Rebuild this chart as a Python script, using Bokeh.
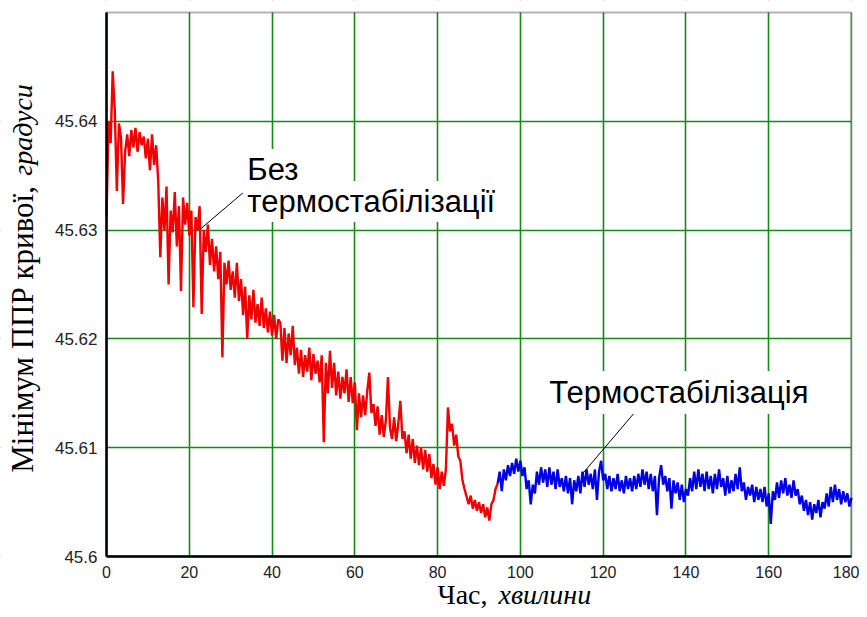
import numpy as np
from bokeh.plotting import figure
from bokeh.models import Range1d, FixedTicker, Label, PrintfTickFormatter, BoxAnnotation
from bokeh.embed import file_html
from bokeh.resources import INLINE

# ---------------- data ----------------
SAMPLE_STEP_MIN = 0.5          # sampling interval of the listed values, minutes
red_start_min = 0.0            # "Без термостабілізації" segment starts here
blue_start_min = 94.5          # "Термостабілізація" segment starts here

red_deg = [
    45.6312, 45.6400, 45.6380, 45.6446, 45.6410, 45.6336, 45.6398, 45.6385, 45.6324, 45.6372,
    45.6388, 45.6368, 45.6392, 45.6376, 45.6394, 45.6372, 45.6390, 45.6378, 45.6386, 45.6366,
    45.6384, 45.6355, 45.6388, 45.6360, 45.6378, 45.6345, 45.6275, 45.6330, 45.6300, 45.6340,
    45.6250, 45.6318, 45.6298, 45.6335, 45.6285, 45.6322, 45.6244, 45.6330, 45.6305, 45.6325,
    45.6295, 45.6318, 45.6229, 45.6312, 45.6300, 45.6322, 45.6223, 45.6300, 45.6280, 45.6305,
    45.6268, 45.6292, 45.6262, 45.6285, 45.6255, 45.6280, 45.6183, 45.6270, 45.6250, 45.6272,
    45.6245, 45.6262, 45.6238, 45.6270, 45.6235, 45.6255, 45.6222, 45.6248, 45.6200, 45.6240,
    45.6218, 45.6245, 45.6215, 45.6232, 45.6212, 45.6238, 45.6210, 45.6228, 45.6206, 45.6225,
    45.6203, 45.6222, 45.6200, 45.6218, 45.6215, 45.6180, 45.6210, 45.6178, 45.6205, 45.6185,
    45.6212, 45.6176, 45.6192, 45.6168, 45.6190, 45.6165, 45.6185, 45.6170, 45.6192, 45.6162,
    45.6186, 45.6168, 45.6180, 45.6160, 45.6185, 45.6105, 45.6178, 45.6150, 45.6189, 45.6155,
    45.6178, 45.6148, 45.6170, 45.6145, 45.6165, 45.6150, 45.6172, 45.6142, 45.6165, 45.6141,
    45.6160, 45.6116, 45.6150, 45.6128, 45.6148, 45.6130, 45.6152, 45.6169, 45.6132, 45.6140,
    45.6120, 45.6138, 45.6112, 45.6130, 45.6110, 45.6125, 45.6165, 45.6118, 45.6108, 45.6128,
    45.6106, 45.6122, 45.6143, 45.6108, 45.6115, 45.6095, 45.6112, 45.6090, 45.6108, 45.6086,
    45.6102, 45.6084, 45.6100, 45.6080, 45.6098, 45.6078, 45.6094, 45.6072, 45.6085, 45.6066,
    45.6082, 45.6062, 45.6078, 45.6065, 45.6080, 45.6137, 45.6115, 45.6122, 45.6102, 45.6112,
    45.6092, 45.6088, 45.6070, 45.6062, 45.6055, 45.6048, 45.6056, 45.6044, 45.6052, 45.6042,
    45.6050, 45.6040, 45.6048, 45.6036, 45.6045, 45.6033, 45.6048, 45.6052, 45.6062, 45.6067,
]

blue_deg = [
    45.6067,
    45.6078, 45.6060, 45.6080, 45.6070, 45.6084, 45.6074, 45.6086, 45.6076, 45.6090, 45.6078,
    45.6088, 45.6074, 45.6082, 45.6062, 45.6070, 45.6048, 45.6066, 45.6058, 45.6078, 45.6066,
    45.6082, 45.6068, 45.6080, 45.6064, 45.6082, 45.6066, 45.6078, 45.6062, 45.6080, 45.6064,
    45.6072, 45.6060, 45.6074, 45.6058, 45.6072, 45.6048, 45.6070, 45.6060, 45.6074, 45.6058,
    45.6078, 45.6064, 45.6080, 45.6066, 45.6076, 45.6062, 45.6080, 45.6052, 45.6078, 45.6088,
    45.6070, 45.6076, 45.6062, 45.6074, 45.6060, 45.6072, 45.6062, 45.6076, 45.6060, 45.6070,
    45.6058, 45.6074, 45.6062, 45.6072, 45.6060, 45.6074, 45.6062, 45.6076, 45.6064, 45.6080,
    45.6066, 45.6078, 45.6062, 45.6076, 45.6060, 45.6074, 45.6038, 45.6072, 45.6084, 45.6066,
    45.6074, 45.6060, 45.6072, 45.6044, 45.6070, 45.6058, 45.6068, 45.6052, 45.6066, 45.6050,
    45.6062, 45.6056, 45.6072, 45.6060, 45.6078, 45.6062, 45.6080, 45.6064, 45.6076, 45.6060,
    45.6078, 45.6062, 45.6074, 45.6058, 45.6076, 45.6062, 45.6080, 45.6064, 45.6072, 45.6056,
    45.6074, 45.6058, 45.6070, 45.6060, 45.6076, 45.6062, 45.6082, 45.6060, 45.6068, 45.6052,
    45.6064, 45.6056, 45.6066, 45.6050, 45.6064, 45.6052, 45.6062, 45.6050, 45.6064, 45.6046,
    45.6058, 45.6030, 45.6060, 45.6052, 45.6068, 45.6054, 45.6070, 45.6058, 45.6072, 45.6056,
    45.6066, 45.6054, 45.6070, 45.6056, 45.6062, 45.6048, 45.6056, 45.6042, 45.6052, 45.6038,
    45.6050, 45.6034, 45.6048, 45.6040, 45.6052, 45.6036, 45.6050, 45.6044, 45.6058, 45.6046,
    45.6064, 45.6050, 45.6066, 45.6052, 45.6062, 45.6048, 45.6060, 45.6050, 45.6058, 45.6046,
    45.6054,
]

x_ticks = [0, 20, 40, 60, 80, 100, 120, 140, 160, 180]
x_tick_labels = ["0", "20", "40", "60", "80", "100", "120", "140", "160", "180"]
y_ticks = [45.6, 45.61, 45.62, 45.63, 45.64]
y_tick_labels = ["45.6", "45.61", "45.62", "45.63", "45.64"]

x_title_main, x_title_ital = "Час, ", "хвилини"
y_title_main, y_title_ital = "Мінімум  ППР кривої, ", "градуси"
note_red = ["Без", "термостабілізації"]
note_blue = "Термостабілізація"

# leader lines of the two notes (data coordinates: minutes, degrees)
lead_x0 = [22.7, 115.0]
lead_y0 = [45.6301, 45.6076]
lead_x1 = [32.9, 127.3]
lead_y1 = [45.6334, 45.6131]

red_t = red_start_min + SAMPLE_STEP_MIN * np.arange(len(red_deg))
blue_t = blue_start_min + SAMPLE_STEP_MIN * np.arange(len(blue_deg))

# ---------------- geometry ----------------
X_MIN, X_MAX = 0, 180
Y_MIN, Y_MAX = 45.6, 45.65
W, H = 859, 609
PLOT_L, PLOT_R, PLOT_T, PLOT_B = 106, 851, 12, 556     # plot box in canvas pixels
kx = (X_MAX - X_MIN) / (PLOT_R - PLOT_L)
ky = (Y_MAX - Y_MIN) / (PLOT_B - PLOT_T)
x_range = Range1d(X_MIN - PLOT_L * kx, X_MAX + (W - PLOT_R) * kx)
y_range = Range1d(Y_MIN - (H - PLOT_B) * ky, Y_MAX + PLOT_T * ky)

p = figure(width=W, height=H, x_range=x_range, y_range=y_range,
           output_backend="svg", toolbar_location=None,
           min_border=0, min_border_left=0, min_border_right=0,
           min_border_top=0, min_border_bottom=0,
           background_fill_color="white", border_fill_color="white")
p.outline_line_color = None

# axes drawn at the edges of the plot box
p.xaxis.fixed_location = Y_MIN
p.yaxis.fixed_location = X_MIN
p.xaxis.bounds = (X_MIN, X_MAX)
p.yaxis.bounds = (Y_MIN, Y_MAX)
p.xaxis.ticker = FixedTicker(ticks=x_ticks)
p.yaxis.ticker = FixedTicker(ticks=y_ticks)
p.xaxis.major_label_overrides = dict(zip(x_ticks, x_tick_labels))
p.yaxis.major_label_overrides = dict(zip(y_ticks, y_tick_labels))
p.yaxis.formatter = PrintfTickFormatter(format="%g")

for ax in (p.xaxis[0], p.yaxis[0]):
    ax.major_tick_out = 0
    ax.major_tick_in = 0
    ax.minor_tick_out = 0
    ax.minor_tick_in = 0
    ax.axis_line_color = "black"
    ax.axis_line_width = 2.5
    ax.major_label_text_font = "Liberation Sans"
    ax.major_label_text_color = "#222222"
p.xaxis.major_label_text_font_size = "16px"
p.yaxis.major_label_text_font_size = "17px"
p.xaxis.major_label_standoff = 9
p.yaxis.major_label_standoff = 9

for g in (p.xgrid[0], p.ygrid[0]):
    g.grid_line_color = "#138a13"
    g.grid_line_width = 1.6
    g.grid_line_alpha = 1.0

# white margins hide the grid lines outside the plot box
for kw in (dict(right=X_MIN), dict(left=X_MAX), dict(top=Y_MIN), dict(bottom=Y_MAX)):
    p.add_layout(BoxAnnotation(fill_color="white", fill_alpha=1.0, line_alpha=0,
                               level="underlay", **kw))

# traces
p.line(red_t, red_deg, line_color="#f20000", line_width=2.4)
p.line(blue_t, blue_deg, line_color="#0000e8", line_width=2.4)

# plot box frame
p.add_layout(BoxAnnotation(left=X_MIN, right=X_MAX, bottom=Y_MIN, top=Y_MAX,
                           fill_alpha=0, line_color="black", line_width=2))

# leader lines
p.segment(x0=lead_x0, y0=lead_y0, x1=lead_x1, y1=lead_y1,
          line_color="black", line_width=1)

# notes
note_font = "Liberation Sans"
p.add_layout(Label(x=33.3, y=45.63557, text=note_red[0], text_font=note_font,
                   text_font_size="31px", text_baseline="alphabetic", text_color="black",
                   background_fill_color="white", padding=3))
p.add_layout(Label(x=33.3, y=45.63263, text=note_red[1], text_font=note_font,
                   text_font_size="31px", text_baseline="alphabetic", text_color="black",
                   background_fill_color="white", padding=3))
p.add_layout(Label(x=106.0, y=45.61507, text=note_blue, text_font=note_font,
                   text_font_size="31px", text_baseline="alphabetic", text_color="black",
                   background_fill_color="white", padding=4))

# axis titles (regular + italic parts)
title_font = "Liberation Serif"
p.add_layout(Label(x=79.97, y=45.59651, text=x_title_main, text_font=title_font,
                   text_font_size="28px", text_baseline="alphabetic", text_align="left",
                   text_color="black"))
p.add_layout(Label(x=94.7, y=45.59651, text=x_title_ital, text_font=title_font,
                   text_font_size="28px", text_font_style="italic",
                   text_baseline="alphabetic", text_align="left", text_color="black"))
p.add_layout(Label(x=-20.3, y=45.6077, text=y_title_main, text_font=title_font,
                   text_font_size="31px", angle=np.pi / 2, text_baseline="middle",
                   text_align="left", text_color="black"))
p.add_layout(Label(x=-20.3, y=45.6350, text=y_title_ital, text_font=title_font,
                   text_font_size="28px", text_font_style="italic", angle=np.pi / 2,
                   text_baseline="middle", text_align="left", text_color="black"))

open("out.html", "w").write(file_html(p, INLINE))
